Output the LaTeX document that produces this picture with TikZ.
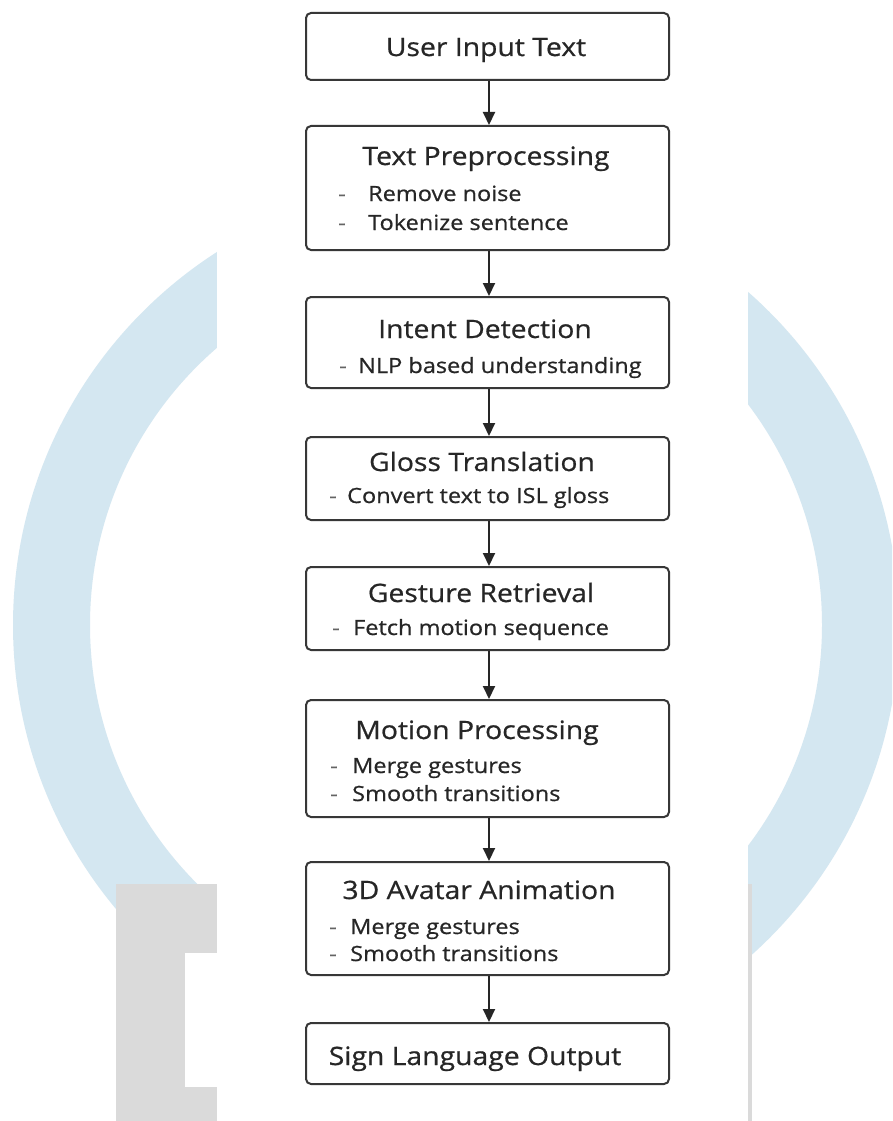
\documentclass[tikz,border=0pt]{standalone}
\usepackage{fontspec}
\setmainfont{Open Sans}[FakeStretch=1.12,FakeBold=0.7]
\usetikzlibrary{arrows.meta}
\definecolor{ringblue}{RGB}{212,231,241}
\definecolor{wmgrey}{RGB}{218,218,218}
\definecolor{ink}{RGB}{38,38,38}
\definecolor{edge}{RGB}{55,55,55}
\definecolor{dashgrey}{RGB}{100,100,100}
\tikzset{
  box/.style={draw=edge, line width=2pt, rounded corners=5pt, minimum width=363pt, inner sep=0pt, fill=white},
  title/.style={anchor=base, inner sep=0pt, text=ink, font=\fontsize{25.3}{28}\selectfont},
  item/.style={anchor=base west, inner sep=0pt, text=ink, font=\fontsize{21}{24}\selectfont},
  dashmark/.style={anchor=base west, inner sep=0pt, text=dashgrey, font=\fontsize{21}{24}\selectfont},
  arr/.style={draw=ink, line width=2pt, -{Triangle[width=12pt,length=13pt]}}
}
\begin{document}
\begin{tikzpicture}[x=1pt,y=-1pt]
\useasboundingbox (0,0) rectangle (892,1121);
\clip (0,0) rectangle (892,1121);
\fill[white] (0,0) rectangle (892,1121);
% background watermark
\fill[ringblue, even odd rule] (456,625) circle[radius=443pt] (456,625) circle[radius=366pt];
\fill[wmgrey] (116,884) rectangle (752,1121);
\fill[white] (185,953) rectangle (217,1087);
\fill[white] (217,0) rectangle (748,1121);
% boxes
\node[box, minimum height=67pt]  (b1) at (487.5,46.5) {};
\node[box, minimum height=124pt] (b2) at (487.5,188) {};
\node[box, minimum height=91pt]  (b3) at (487.5,342.5) {};
\node[box, minimum height=83pt]  (b4) at (487.5,478.5) {};
\node[box, minimum height=83pt]  (b5) at (487.5,608.5) {};
\node[box, minimum height=117pt] (b6) at (487.5,758.5) {};
\node[box, minimum height=113pt] (b7) at (487.5,918.5) {};
\node[box, minimum height=61pt]  (b8) at (487.5,1053.5) {};
% titles (base = baseline)
\node[title] (t1) at (486,56) {User Input Text};
\node[title] (t2) at (486,165) {Text Preprocessing};
\node[title] (t3) at (485,338) {Intent Detection};
\node[title] (t4) at (482,471) {Gloss Translation};
\node[title] (t5) at (481,602) {Gesture Retrieval};
\node[title] (t6) at (477,739) {Motion Processing};
\node[title] (t7) at (479,899) {3D Avatar Animation};
\node[title] (t8) at (475,1065) {Sign Language Output};
% items
\node[dashmark] (d2a) at (338,201) {-};
\node[item] (i2a) at (368,201) {Remove noise};
\node[dashmark] (d2b) at (338,230) {-};
\node[item] (i2b) at (368,230) {Tokenize sentence};
\node[dashmark] (d3a) at (339,373) {-};
\node[item] (i3a) at (358,373) {NLP based understanding};
\node[dashmark] (d4a) at (329,503) {-};
\node[item] (i4a) at (347,503) {Convert text to ISL gloss};
\node[dashmark] (d5a) at (332,635) {-};
\node[item] (i5a) at (353,635) {Fetch motion sequence};
\node[dashmark] (d6a) at (330,773) {-};
\node[item] (i6a) at (352,773) {Merge gestures};
\node[dashmark] (d6b) at (330,801) {-};
\node[item] (i6b) at (352,801) {Smooth transitions};
\node[dashmark] (d7a) at (329,934) {-};
\node[item] (i7a) at (350,934) {Merge gestures};
\node[dashmark] (d7b) at (329,961) {-};
\node[item] (i7b) at (350,961) {Smooth transitions};
% arrows
\draw[arr] ([xshift=1.5pt]b1.south) -- ([xshift=1.5pt]b2.north);
\draw[arr] ([xshift=1.5pt]b2.south) -- ([xshift=1.5pt]b3.north);
\draw[arr] ([xshift=1.5pt]b3.south) -- ([xshift=1.5pt]b4.north);
\draw[arr] ([xshift=1.5pt]b4.south) -- ([xshift=1.5pt]b5.north);
\draw[arr] ([xshift=1.5pt]b5.south) -- ([xshift=1.5pt]b6.north);
\draw[arr] ([xshift=1.5pt]b6.south) -- ([xshift=1.5pt]b7.north);
\draw[arr] ([xshift=1.5pt]b7.south) -- ([xshift=1.5pt]b8.north);
\end{tikzpicture}
\end{document}
